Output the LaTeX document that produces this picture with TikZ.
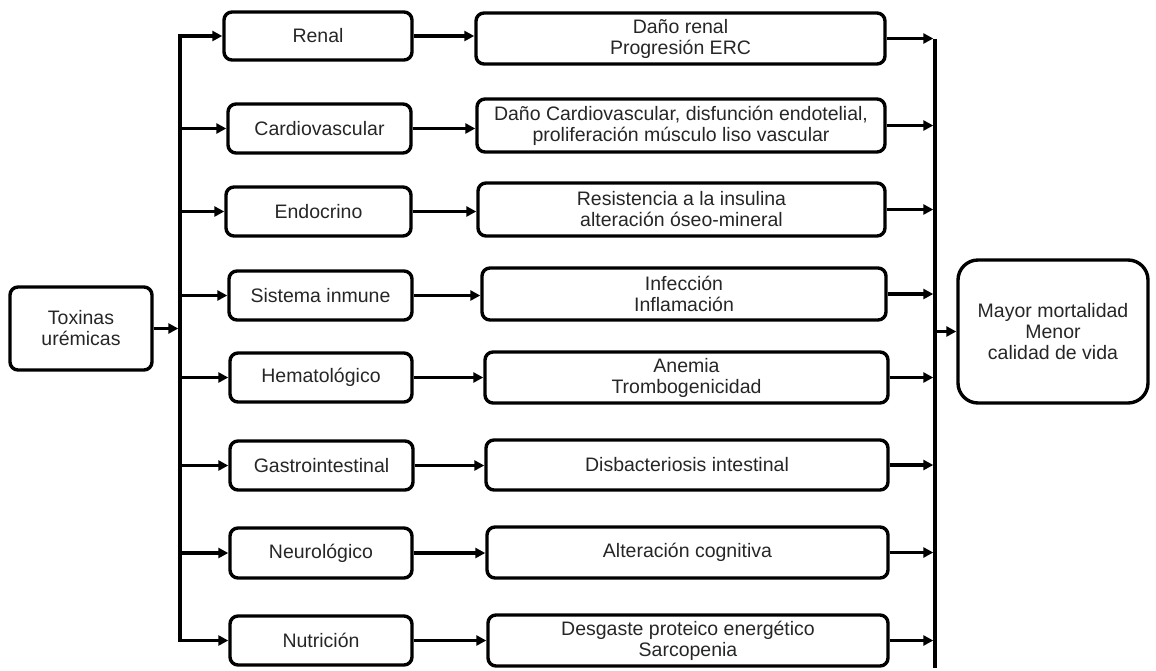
\documentclass[tikz,border=0pt]{standalone}
\usepackage{fontspec}
\setmainfont{Liberation Sans}
\usetikzlibrary{arrows.meta}
\begin{document}
\begin{tikzpicture}[x=1pt,y=-1pt,
  box/.style={draw=black,line width=3.4pt,rounded corners=8pt,align=center,inner sep=1pt,
    font=\fontsize{19.5}{21}\selectfont,text=black!85},
  bigbox/.style={box,rounded corners=20pt},
  conn/.style={line width=3.4pt},
  arr/.style={conn,-{Triangle[length=10pt,width=10pt]}}]
\useasboundingbox (0,0) rectangle (1156,670);
\node[box,minimum width=142pt,minimum height=83pt] (tox) at (81,328.5) {Toxinas\\urémicas};
\node[box,minimum width=188pt,minimum height=48pt] (m1) at (318,36) {Renal};
\node[box,minimum width=183pt,minimum height=49pt] (m2) at (319.5,128.5) {Cardiovascular};
\node[box,minimum width=185pt,minimum height=49pt] (m3) at (318.5,211.5) {Endocrino};
\node[box,minimum width=183pt,minimum height=49pt] (m4) at (320.5,295.5) {Sistema inmune};
\node[box,minimum width=182pt,minimum height=49pt] (m5) at (321,377.5) {Hematológico};
\node[box,minimum width=183pt,minimum height=49pt] (m6) at (321.5,465.5) {Gastrointestinal};
\node[box,minimum width=182pt,minimum height=50pt] (m7) at (321,553) {Neurológico};
\node[box,minimum width=182pt,minimum height=49pt] (m8) at (321,640.5) {Nutrición};
\node[box,minimum width=409pt,minimum height=51pt] (o1) at (680.5,38.5) {Daño renal\\Progresión ERC};
\node[box,minimum width=408pt,minimum height=53pt] (o2) at (681,125.5) {Daño Cardiovascular, disfunción endotelial,\\proliferación músculo liso vascular};
\node[box,minimum width=407pt,minimum height=53pt] (o3) at (681.5,209.5) {Resistencia a la insulina\\alteración óseo-mineral};
\node[box,minimum width=404pt,minimum height=52pt] (o4) at (684,294) {Infección\\Inflamación};
\node[box,minimum width=403pt,minimum height=51pt] (o5) at (686.5,377.5) {Anemia\\Trombogenicidad};
\node[box,minimum width=402pt,minimum height=50pt] (o6) at (687,465) {Disbacteriosis intestinal};
\node[box,minimum width=401pt,minimum height=51pt] (o7) at (687.5,552.5) {Alteración cognitiva};
\node[box,minimum width=400pt,minimum height=51pt] (o8) at (688,640.5) {Desgaste proteico energético\\Sarcopenia};
\node[bigbox,minimum width=190pt,minimum height=143pt] (fin) at (1053,331.5) {Mayor mortalidad\\Menor\\calidad de vida};
\coordinate (tl) at (180,0);
\coordinate (rl) at (935,0);
\draw[conn] ([yshift=-1.7pt]m1.west -| tl) -- ([yshift=1.7pt]m8.west -| tl);
\draw[conn] (o1.east -| rl) -- (o8.south -| rl);
\draw[arr] (tox.east) -- ([xshift=-1.7pt]tox.east -| tl);
\draw[arr] (rl |- fin.west) -- (fin.west);
\foreach \i in {1,...,8}{
  \draw[arr] ([xshift=-1.7pt]m\i.west -| tl) -- (m\i.west);
  \draw[arr] (m\i.east) -- (m\i.east -| o\i.west);
  \draw[arr] (o\i.east) -- ([xshift=-1.7pt]o\i.east -| rl);
}
\end{tikzpicture}
\end{document}
